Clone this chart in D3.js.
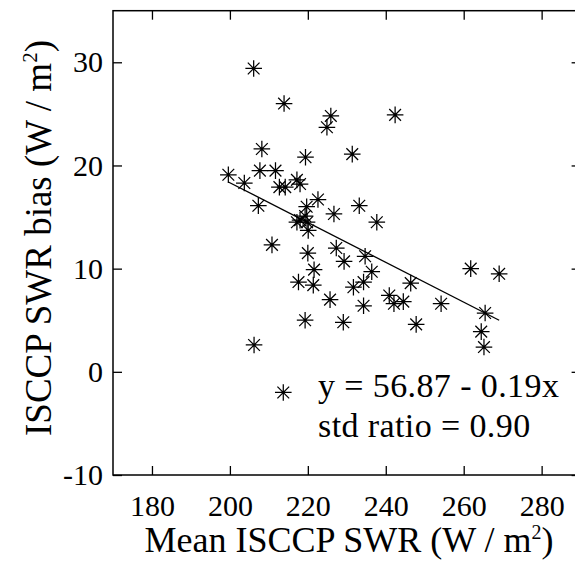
<!DOCTYPE html>
<html>
<head>
<meta charset="utf-8">
<script src="https://cdn.jsdelivr.net/npm/d3@7"></script>
<style>
  html, body { margin: 0; padding: 0; background: #fff; }
  svg { display: block; }
  text { font-family: "Liberation Serif", "Times New Roman", serif; fill: #000; }
</style>
</head>
<body>
<svg id="chart" width="575" height="567"></svg>
<script>
// ---- data ----
const meanSWR = [206.1, 213.9, 225.9, 224.9, 242.4, 208.2, 219.4, 231.4, 199.6, 203.7,
                 207.7, 211.7, 212.7, 214.2, 217.2, 218.0, 207.3, 222.6, 226.7, 233.2,
                 237.7, 217.2, 218.0, 219.3, 219.8, 219.7, 220.1, 210.8, 220.0, 227.3,
                 229.3, 234.7, 221.6, 217.6, 221.4, 231.7, 234.3, 225.7, 234.3, 219.3,
                 229.1, 206.2, 213.7, 236.4, 261.8, 269.1, 246.4, 240.9, 242.1, 244.5,
                 254.2, 247.8, 265.5, 264.5, 265.2];
const swrBias = [29.4, 26.0, 24.8, 23.7, 24.9, 21.6, 20.8, 21.1, 19.1, 18.3,
                 19.5, 19.5, 17.9, 17.9, 18.6, 18.2, 16.1, 16.7, 15.3, 16.1,
                 14.5, 14.5, 14.7, 15.1, 14.5, 16.0, 13.7, 12.3, 11.5, 12.0,
                 10.7, 11.2, 9.9, 8.7, 8.4, 8.2, 8.7, 7.0, 6.4, 5.0,
                 4.8, 2.6, -2.0, 9.7, 10.0, 9.5, 8.6, 7.4, 6.6, 6.8,
                 6.6, 4.6, 5.7, 3.9, 2.4];
const fitX = [199.6, 269.1];
const fitY = [18.4, 5.0];
const xTicks = [180, 200, 220, 240, 260, 280];
const yTicks = [-10, 0, 10, 20, 30];
const xDomain = [170, 290];
const yDomain = [-10, 35];
const annotation = ["y = 56.87 - 0.19x", "std ratio = 0.90"];

// ---- layout ----
const svg = d3.select("#chart");
const mLeft = 113, mRight = 580.6, mTop = 10.7, mBottom = 475;
const x = d3.scaleLinear().domain(xDomain).range([mLeft, mRight]);
const y = d3.scaleLinear().domain(yDomain).range([mBottom, mTop]);
const tickLen = 9;

// frame
svg.append("rect")
  .attr("x", mLeft).attr("y", mTop)
  .attr("width", mRight - mLeft).attr("height", mBottom - mTop)
  .attr("fill", "none").attr("stroke", "#000").attr("stroke-width", 1.5);

// axes with inward ticks
const fmt = d => String(d);
const xAxisB = d3.axisBottom(x).tickValues(xTicks).tickSize(-tickLen).tickPadding(20).tickFormat(fmt);
const xAxisT = d3.axisTop(x).tickValues(xTicks).tickSize(-tickLen).tickFormat("");
const yAxisL = d3.axisLeft(y).tickValues(yTicks).tickSize(-tickLen).tickPadding(10).tickFormat(fmt);
const yAxisR = d3.axisRight(y).tickValues(yTicks).tickSize(-tickLen).tickFormat("");

function styleAxis(g) {
  g.select(".domain").remove();
  g.selectAll(".tick line").attr("stroke", "#000").attr("stroke-width", 1.3);
  g.selectAll(".tick text").attr("font-family", "Liberation Serif").attr("font-size", 30).attr("fill", "#000");
}
svg.append("g").attr("transform", `translate(0,${mBottom})`).call(xAxisB).call(styleAxis);
svg.append("g").attr("transform", `translate(0,${mTop})`).call(xAxisT).call(styleAxis);
svg.append("g").attr("transform", `translate(${mLeft},0)`).call(yAxisL).call(styleAxis);
svg.append("g").attr("transform", `translate(${mRight},0)`).call(yAxisR).call(styleAxis);

// regression line
svg.append("line")
  .attr("x1", x(fitX[0])).attr("y1", y(fitY[0]))
  .attr("x2", x(fitX[1])).attr("y2", y(fitY[1]))
  .attr("stroke", "#000").attr("stroke-width", 1.3);

// asterisk markers
const r = 8.3, rd = r * Math.SQRT1_2;
const star = `M${-r},0L${r},0M0,${-r}L0,${r}M${-rd},${-rd}L${rd},${rd}M${-rd},${rd}L${rd},${-rd}`;
svg.append("g").selectAll("path")
  .data(meanSWR.map((v, i) => [v, swrBias[i]]))
  .join("path")
  .attr("transform", d => `translate(${x(d[0])},${y(d[1])})`)
  .attr("d", star)
  .attr("fill", "none").attr("stroke", "#000").attr("stroke-width", 1.25);

// axis titles
const xt = svg.append("text")
  .attr("x", 349).attr("y", 552)
  .attr("text-anchor", "middle").attr("font-size", 36);
xt.append("tspan").text("Mean ISCCP SWR (W / m");
xt.append("tspan").attr("font-size", 20).attr("dy", -13).text("2");
xt.append("tspan").attr("dy", 13).text(")");

const yt = svg.append("text")
  .attr("transform", `translate(51,238) rotate(-90)`)
  .attr("text-anchor", "middle").attr("font-size", 37);
yt.append("tspan").text("ISCCP SWR bias (W / m");
yt.append("tspan").attr("font-size", 21).attr("dy", -14).text("2");
yt.append("tspan").attr("dy", 14).text(")");

// annotation
svg.append("text").attr("x", 318).attr("y", 397).attr("font-size", 34).attr("letter-spacing", 0.4).text(annotation[0]);
svg.append("text").attr("x", 318).attr("y", 437).attr("font-size", 34).attr("letter-spacing", 0.4).text(annotation[1]);
</script>
</body>
</html>
